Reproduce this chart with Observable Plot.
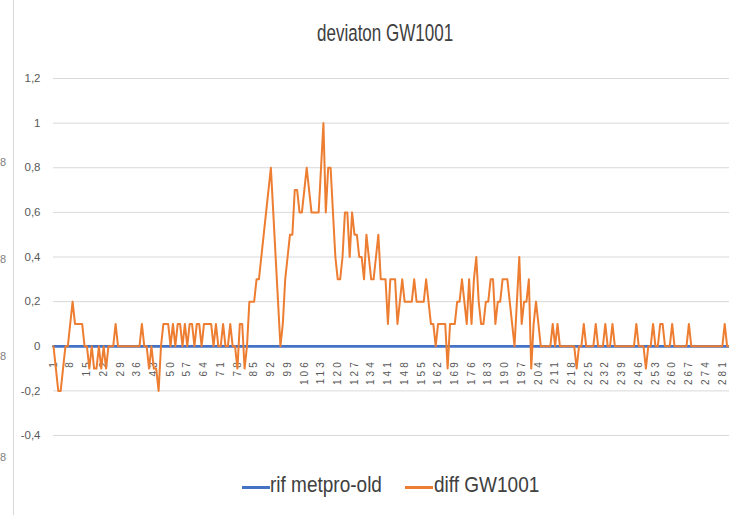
<!DOCTYPE html>
<html><head><meta charset="utf-8">
<script src="https://cdn.jsdelivr.net/npm/d3@7"></script>
<script src="https://cdn.jsdelivr.net/npm/@observablehq/plot@0.6"></script>
<style>
html,body{margin:0;padding:0;background:#fff;}
body{width:729px;height:515px;overflow:hidden;position:relative;font-family:"Liberation Sans",Arial,sans-serif;}
#title{position:absolute;left:317px;top:19px;color:#404040;font-size:17px;transform:scale(1,1.45);transform-origin:0 0;white-space:nowrap;}
#chart{position:absolute;left:0;top:60px;}
#border{position:absolute;left:13px;top:0;width:1px;height:515px;background:#d9d9d9;}
.frag{position:absolute;left:0px;font-size:11px;color:#808080;}
#legend{position:absolute;left:0;top:473px;width:729px;height:30px;}
.sw{position:absolute;height:3px;top:13px;width:28px;}
.lt{position:absolute;top:0;color:#404040;font-size:19px;transform:scale(1,1.13);transform-origin:0 0;white-space:nowrap;}
</style></head><body>
<div id="border"></div>
<div class="frag" style="top:156px">8</div>
<div class="frag" style="top:253px">8</div>
<div class="frag" style="top:350px">8</div>
<div class="frag" style="top:451px">8</div>
<div id="title">deviaton GW1001</div>
<div id="chart"></div>
<div id="legend">
  <div class="sw" style="left:242px;background:#4472C4"></div>
  <div class="lt" style="left:270px">rif metpro-old</div>
  <div class="sw" style="left:405px;background:#ED7D31"></div>
  <div class="lt" style="left:434px">diff GW1001</div>
</div>
<script>
// series values, index 1..284
const diffGW1001 = [
  0,-0.1,-0.2,-0.2,-0.1,0,0,0.1,0.2,0.1,
  0.1,0.1,0.1,0,0,-0.1,0,-0.1,-0.1,0,
  -0.1,0,-0.1,0,0,0,0.1,0,0,0,
  0,0,0,0,0,0,0,0.1,0,0,
  -0.1,0,-0.1,-0.1,-0.2,0,0.1,0.1,0.1,0,
  0.1,0,0.1,0.1,0,0.1,0,0.1,0.1,0,
  0.1,0.1,0,0.1,0.1,0.1,0.1,0,0.1,0,
  0,0.1,0,0,0.1,0,0,-0.1,0.1,0.1,
  -0.1,0,0.2,0.2,0.2,0.3,0.3,0.4,0.5,0.6,
  0.7,0.8,0.6,0.4,0.2,0,0.1,0.3,0.4,0.5,
  0.5,0.7,0.7,0.6,0.6,0.7,0.8,0.7,0.6,0.6,
  0.6,0.6,0.8,1.0,0.6,0.8,0.8,0.6,0.4,0.3,
  0.3,0.4,0.6,0.6,0.4,0.6,0.5,0.5,0.4,0.4,
  0.3,0.5,0.4,0.3,0.3,0.4,0.5,0.3,0.3,0.3,
  0.1,0.3,0.3,0.3,0.1,0.2,0.3,0.2,0.2,0.2,
  0.2,0.3,0.2,0.2,0.2,0.2,0.3,0.2,0.1,0.1,
  0,0.1,0.1,0.1,0.1,-0.1,0.1,0.1,0.1,0.2,
  0.2,0.3,0.2,0.1,0.3,0.1,0.3,0.4,0.2,0.1,
  0.1,0.2,0.2,0.3,0.3,0.1,0.2,0.2,0.3,0.3,
  0.3,0.2,0.1,0,0.2,0.4,0.1,0.2,0.2,0.3,
  -0.1,0.1,0.2,0.1,0,0,0,0,0,0.1,
  0,0.1,0,0,0,0,0,0,0,-0.1,
  0,0,0.1,0,0,0,0,0.1,0,0,
  0,0.1,0,0,0.1,0,0,0,0,0,
  0,0,0,0,0.1,0,0,0,-0.1,0,
  0,0.1,0,0,0.1,0.1,0,0,0,0.1,
  0,0,0,0,0,0,0.1,0,0,0,
  0,0,0,0,0,0,0,0,0,0,
  0,0.1,0,0
];
const rifMetproOld = [
  0,0,0,0,0,0,0,0,0,0, 0,0,0,0,0,0,0,0,0,0, 0,0,0,0,0,0,0,0,0,0,
  0,0,0,0,0,0,0,0,0,0, 0,0,0,0,0,0,0,0,0,0, 0,0,0,0,0,0,0,0,0,0,
  0,0,0,0,0,0,0,0,0,0, 0,0,0,0,0,0,0,0,0,0, 0,0,0,0,0,0,0,0,0,0,
  0,0,0,0,0,0,0,0,0,0, 0,0,0,0,0,0,0,0,0,0, 0,0,0,0,0,0,0,0,0,0,
  0,0,0,0,0,0,0,0,0,0, 0,0,0,0,0,0,0,0,0,0, 0,0,0,0,0,0,0,0,0,0,
  0,0,0,0,0,0,0,0,0,0, 0,0,0,0,0,0,0,0,0,0, 0,0,0,0,0,0,0,0,0,0,
  0,0,0,0,0,0,0,0,0,0, 0,0,0,0,0,0,0,0,0,0, 0,0,0,0,0,0,0,0,0,0,
  0,0,0,0,0,0,0,0,0,0, 0,0,0,0,0,0,0,0,0,0, 0,0,0,0,0,0,0,0,0,0,
  0,0,0,0,0,0,0,0,0,0, 0,0,0,0,0,0,0,0,0,0, 0,0,0,0,0,0,0,0,0,0,
  0,0,0,0,0,0,0,0,0,0, 0,0,0,0
];
const xTickLabels = ["1","8","15","22","29","36","43","50","57","64","71","78","85","92","99","106","113","120","127","134","141","148","155","162","169","176","183","190","197","204","211","218","225","232","239","246","253","260","267","274","281"];
const yTickValues = [-0.4,-0.2,0,0.2,0.4,0.6,0.8,1,1.2];
const yTickLabels = ["-0,4","-0,2","0","0,2","0,4","0,6","0,8","1","1,2"];

const diffRows = diffGW1001.map((v,i)=>({idx:i+1, v}));
const rifRows = rifMetproOld.map((v,i)=>({idx:i+1, v}));

const chart = Plot.plot({
  width: 729, height: 400,
  marginLeft: 53, marginRight: 0, marginTop: 18, marginBottom: 25,
  style: {fontFamily: "'Liberation Sans',sans-serif", fontSize: "11px", color: "#595959", background: "transparent"},
  x: {domain: [1, 284], axis: null},
  y: {domain: [-0.4, 1.2], axis: null},
  marks: [
    Plot.gridY(yTickValues, {stroke: "#d9d9d9", strokeOpacity: 1, strokeWidth: 1}),
    Plot.axisY(yTickValues, {label: null, tickSize: 0, tickPadding: 13, tickFormat: d => yTickLabels[yTickValues.indexOf(d)], fontSize: 11.5, fill: "#595959"}),
    Plot.text(xTickLabels, {x: d => +d, y: 0, text: d => d, rotate: -90, textAnchor: "end", dy: 13, fontSize: 10, fill: "#595959"}),
    Plot.line(rifRows, {x: "idx", y: "v", stroke: "#4472C4", strokeWidth: 2.75}),
    Plot.line(diffRows, {x: "idx", y: "v", stroke: "#ED7D31", strokeWidth: 2, strokeLinejoin: "round"})
  ]
});
document.getElementById("chart").appendChild(chart);
d3.select(chart).selectAll('g[aria-label="text"] text').attr("letter-spacing", "3px");
</script>
</body></html>
